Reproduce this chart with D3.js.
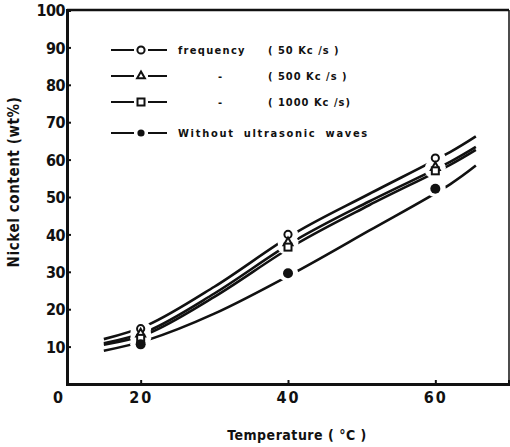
<!DOCTYPE html>
<html>
<head>
<meta charset="utf-8">
<script src="https://cdn.jsdelivr.net/npm/d3@7"></script>
<style>
  body { margin: 0; background: #fff; }
  svg text { font-family: "DejaVu Sans Condensed", "DejaVu Sans", sans-serif; font-weight: bold; fill: #111; }
</style>
</head>
<body>
<div id="chart"></div>
<script>
// curve knots (temperature, °C)
const curveTemps = [15, 21, 30, 41, 51, 62, 65.5];
// measured points
const pointTemps = [20, 40, 60];

const seriesNames = ["50 Kc/s", "500 Kc/s", "1000 Kc/s", "Without ultrasonic waves"];
const seriesSymbols = ["circle", "triangle", "square", "dot"];

const curve50 = [12.0, 15.8, 26.0, 40.4, 50.8, 62.0, 66.2];
const curve500 = [10.9, 14.2, 24.2, 38.4, 48.8, 59.4, 63.4];
const curve1000 = [10.5, 13.5, 23.3, 37.3, 47.8, 58.6, 62.6];
const curveNone = [8.9, 11.8, 18.8, 29.9, 41.0, 53.4, 58.4];

const points50 = [14.8, 40.0, 60.4];
const points500 = [13.4, 37.8, 57.9];
const points1000 = [12.2, 36.6, 57.0];
const pointsNone = [10.6, 29.6, 52.2];

const yTicks = [10, 20, 30, 40, 50, 60, 70, 80, 90, 100];
const xTicks = [20, 40, 60];

const legendLabels = [
  ["frequency", "( 50  Kc /s )"],
  ["-", "( 500  Kc /s )"],
  ["-", "( 1000  Kc /s)"],
  ["Without  ultrasonic  waves", ""]
];

const curves = [curve50, curve500, curve1000, curveNone];
const points = [points50, points500, points1000, pointsNone];

const W = 510, H = 447;
const box = { left: 67, right: 509, top: 10, bottom: 384 };

const svg = d3.select("#chart").append("svg")
  .attr("width", W).attr("height", H);

const x = d3.scaleLinear().domain([10, 70]).range([box.left, box.right]);
const y = d3.scaleLinear().domain([0, 100]).range([box.bottom, box.top]);

// frame
svg.append("line").attr("x1", box.left).attr("x2", box.right).attr("y1", box.top).attr("y2", box.top)
  .attr("stroke", "#111").attr("stroke-width", 2.5);
svg.append("line").attr("x1", box.right).attr("x2", box.right).attr("y1", box.top).attr("y2", box.bottom)
  .attr("stroke", "#111").attr("stroke-width", 1.5);

// axes
const yAxis = svg.append("g")
  .attr("transform", `translate(${box.left},0)`)
  .call(d3.axisRight(y).tickValues(yTicks).tickSize(4).tickFormat(d3.format("d")));
yAxis.select(".domain").attr("stroke", "#111").attr("stroke-width", 3);
yAxis.selectAll(".tick line").attr("stroke", "#111").attr("stroke-width", 2);
yAxis.selectAll(".tick text")
  .attr("x", -2).attr("text-anchor", "end").attr("dy", "0.36em")
  .style("font-size", "16px").style("letter-spacing", "-0.5px");

const xAxis = svg.append("g")
  .attr("transform", `translate(0,${box.bottom})`)
  .call(d3.axisTop(x).tickValues(xTicks).tickSize(4).tickFormat(d3.format("d")));
xAxis.select(".domain").attr("stroke", "#111").attr("stroke-width", 3);
xAxis.selectAll(".tick line").attr("stroke", "#111").attr("stroke-width", 2);
xAxis.selectAll(".tick text")
  .attr("y", 19).attr("dy", 0)
  .style("font-size", "16px").style("letter-spacing", "2px");

// origin label
svg.append("text").attr("x", box.left - 4).attr("y", box.bottom + 19)
  .attr("text-anchor", "end").style("font-size", "16px").text("0");

// axis titles
svg.append("text")
  .attr("transform", `translate(19,182) rotate(-90)`)
  .attr("text-anchor", "middle").style("font-size", "15px").style("letter-spacing", "0.6px")
  .text("Nickel content (wt%)");
svg.append("text")
  .attr("x", 297).attr("y", 440).attr("text-anchor", "middle")
  .style("font-size", "14px").style("letter-spacing", "0.5px")
  .text("Temperature ( °C )");

// curves
const line = d3.line()
  .x((d, i) => x(curveTemps[i]))
  .y(d => y(d))
  .curve(d3.curveCatmullRom.alpha(0.5));

svg.append("g").selectAll("path")
  .data(curves)
  .join("path")
  .attr("d", line)
  .attr("fill", "none")
  .attr("stroke", "#111")
  .attr("stroke-width", 2.6);

// gaps around markers (curves are broken where the points sit)
const markerData = [];
points.forEach((vals, s) => vals.forEach((v, i) => markerData.push({ s, t: pointTemps[i], v })));

svg.append("g").selectAll("ellipse")
  .data(markerData)
  .join("ellipse")
  .attr("cx", d => x(d.t))
  .attr("cy", d => y(d.v))
  .attr("rx", 10.5)
  .attr("ry", 8)
  .attr("fill", "#fff");

function drawSymbol(g, kind, cx, cy, small) {
  if (kind === "circle") {
    g.append("circle").attr("cx", cx).attr("cy", cy).attr("r", 3.6)
      .attr("fill", "#fff").attr("stroke", "#111").attr("stroke-width", 2);
  } else if (kind === "triangle") {
    g.append("path").attr("d", d3.symbol(d3.symbolTriangle, small ? 26 : 34)())
      .attr("transform", `translate(${cx},${cy})`)
      .attr("fill", "#fff").attr("stroke", "#111").attr("stroke-width", 2);
  } else if (kind === "square") {
    g.append("rect").attr("x", cx - 3.5).attr("y", cy - 3.5).attr("width", 7).attr("height", 7)
      .attr("fill", "#fff").attr("stroke", "#111").attr("stroke-width", 2);
  } else {
    g.append("circle").attr("cx", cx).attr("cy", cy).attr("r", small ? 3.6 : 5).attr("fill", "#111");
  }
}

const marks = svg.append("g");
markerData.forEach(d => drawSymbol(marks, seriesSymbols[d.s], x(d.t), y(d.v), false));

// legend
const legendRowsY = [50, 76, 102, 133];
const legend = svg.append("g");
seriesNames.forEach((name, i) => {
  const ly = legendRowsY[i];
  legend.append("line").attr("x1", 111).attr("x2", 134).attr("y1", ly).attr("y2", ly)
    .attr("stroke", "#111").attr("stroke-width", 2);
  legend.append("line").attr("x1", 148).attr("x2", 167).attr("y1", ly).attr("y2", ly)
    .attr("stroke", "#111").attr("stroke-width", 2);
  drawSymbol(legend, seriesSymbols[i], 141, ly, true);
  const lab = legendLabels[i];
  legend.append("text")
    .attr("x", lab[0] === "-" ? 218 : 178).attr("y", ly + 4)
    .style("font-size", "11px")
    .style("letter-spacing", i === 3 ? "1.7px" : "1.3px")
    .style("word-spacing", i === 3 ? "4px" : "0px")
    .text(lab[0]);
  if (lab[1]) {
    legend.append("text")
      .attr("x", 268).attr("y", ly + 4)
      .style("font-size", "11px").style("letter-spacing", "1px")
      .text(lab[1]);
  }
});
</script>
</body>
</html>
